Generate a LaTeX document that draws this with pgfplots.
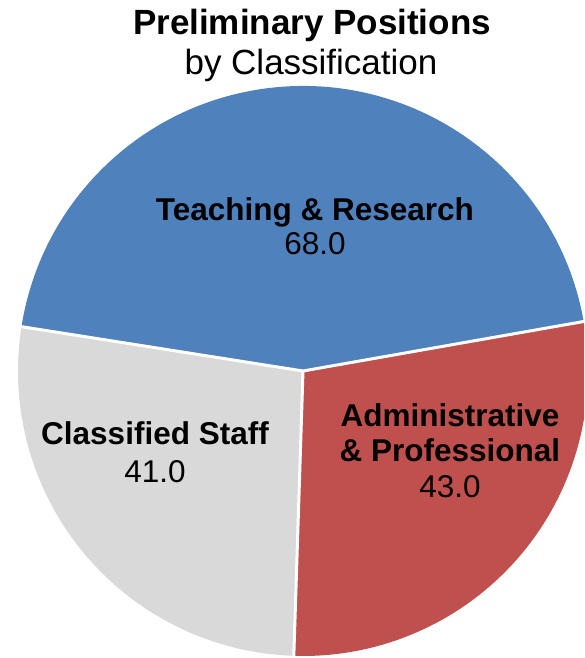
\documentclass[border=0pt]{standalone}
\usepackage{pgfplots}
\pgfplotsset{compat=1.18}
\usepackage{pgfplotstable}
\usepackage{fontspec}
\setmainfont{Liberation Sans}
\definecolor{tblue}{HTML}{4F81BD}
\definecolor{tred}{HTML}{C0504D}
\definecolor{tgray}{HTML}{D9D9D9}

\pgfplotstableread{
name value
Teaching 68.0
Classified 41.0
Admin 43.0
}\piedata

\begin{document}
\begin{tikzpicture}
\useasboundingbox (0,0) rectangle (584pt,658pt);
\clip (0,0) rectangle (584pt,658pt);
\pgfplotstablegetelem{0}{value}\of\piedata \let\va\pgfplotsretval
\pgfplotstablegetelem{1}{value}\of\piedata \let\vb\pgfplotsretval
\pgfplotstablegetelem{2}{value}\of\piedata \let\vc\pgfplotsretval
\pgfmathsetmacro\total{\va+\vb+\vc}
\pgfmathsetmacro\aA{10}
\pgfmathsetmacro\aB{\aA+\va/\total*360}
\pgfmathsetmacro\aC{\aB+\vb/\total*360}
\pgfmathsetmacro\aD{\aA+360}
\begin{axis}[
  scale only axis, width=584pt, height=658pt,
  xmin=0, xmax=584, ymin=0, ymax=658,
  hide axis, clip=true,
]
\fill[tblue] (axis cs:303,287) -- ++(\aA:285pt) arc[start angle=\aA, end angle=\aB, radius=285pt] -- cycle;
\fill[tgray] (axis cs:303,287) -- ++(\aB:285pt) arc[start angle=\aB, end angle=\aC, radius=285pt] -- cycle;
\fill[tred] (axis cs:303,287) -- ++(\aC:285pt) arc[start angle=\aC, end angle=\aD, radius=285pt] -- cycle;
\draw[white, line width=3pt] (axis cs:303,287) -- ++(\aA:300pt);
\draw[white, line width=3pt] (axis cs:303,287) -- ++(\aB:300pt);
\draw[white, line width=3pt] (axis cs:303,287) -- ++(\aC:300pt);
\node[anchor=base, font=\fontsize{35}{40}\selectfont\bfseries] at (axis cs:312,623) {Preliminary Positions};
\node[anchor=base, font=\fontsize{35}{40}\selectfont] at (axis cs:311,583) {by Classification};
\node[anchor=base, font=\fontsize{31.5}{36}\selectfont\bfseries] at (axis cs:315,437) {Teaching \& Research};
\node[anchor=base, font=\fontsize{31.5}{36}\selectfont] at (axis cs:315,403) {68.0};
\node[anchor=base, font=\fontsize{31.5}{36}\selectfont\bfseries] at (axis cs:155,213) {Classified Staff};
\node[anchor=base, font=\fontsize{31.5}{36}\selectfont] at (axis cs:155,175) {41.0};
\node[anchor=base, font=\fontsize{31.5}{36}\selectfont\bfseries] at (axis cs:450,231) {Administrative};
\node[anchor=base, font=\fontsize{31.5}{36}\selectfont\bfseries] at (axis cs:450,196) {\& Professional};
\node[anchor=base, font=\fontsize{31.5}{36}\selectfont] at (axis cs:450,160) {43.0};
\end{axis}
\end{tikzpicture}
\end{document}
